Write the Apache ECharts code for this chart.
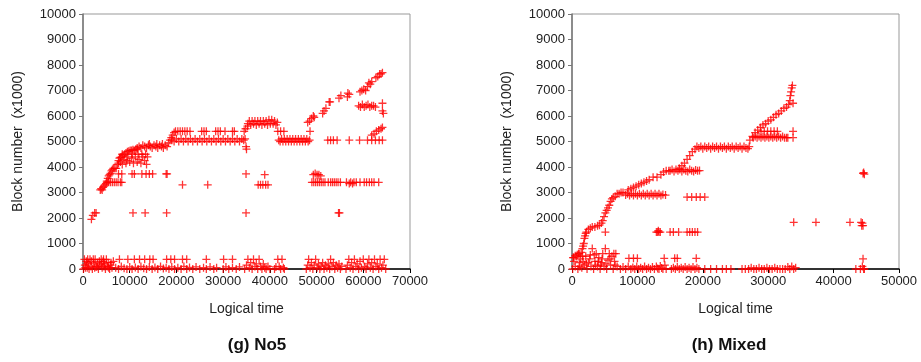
<!DOCTYPE html>
<html>
<head>
<meta charset="utf-8">
<script src="https://cdn.jsdelivr.net/npm/echarts@6/dist/echarts.min.js"></script>
<style>
  html, body { margin: 0; padding: 0; background: #fff; }
  #chart { width: 921px; height: 362px; }
</style>
</head>
<body>
<div id="chart"></div>
<script>
// ---- (g) No5 : [logical time, block number (x1000)]
const no5Low = [
  [100,0],[300,380],[400,150],[500,50],[700,300],[800,200],[900,50],[1000,380],[1200,250],[1300,0],[1500,380],
  [1700,100],[1800,300],[2000,0],[2200,380],[2300,200],[2500,50],[2600,380],[2800,80],[3000,100],[3100,250],
  [3300,0],[3500,300],[3600,150],[3900,380],[4000,200],[4100,50],[4300,300],[4400,380],[4500,100],[4600,200],
  [4800,0],[5000,380],[5200,100],[5400,250],[5500,50],[5700,0],[5900,150],[6000,250],[6200,50],[6500,300],
  [7000,50],[7600,0],[8200,100],[8800,30],[9400,0],[10000,80],[10500,0],[11200,60],[11800,0],[12400,100],
  [13000,30],[13600,0],[14200,80],[14800,0],[15400,60],[16000,0],[16600,100],[17200,20],[17800,50],[18400,0],
  [19000,80],[19600,0],[20300,50],[21000,0],[21600,100],[22200,0],[22800,60],[23500,0],[24200,80],[25000,0],
  [25800,50],[26400,0],[27200,80],[28000,0],[28600,50],[30000,0],[30600,80],[31200,0],[32000,50],[32800,0],[33500,80],
  [7800,380],[9600,380],[11000,380],[12100,380],[13200,380],[14300,380],[15000,380],[17900,380],[18800,380],
  [19600,380],[21300,380],[22200,380],[26400,380],[30100,380],[32000,380],
  [34600,0],[35000,150],[35300,380],[35600,50],[35900,250],[36200,0],[36500,380],[36800,100],[37100,200],
  [37400,0],[37700,380],[38000,100],[38300,0],[38600,200],[38900,50],[39200,0],[39600,100],[40000,0],
  [41000,0],[41300,80],[41700,380],[42000,100],[42300,0],[42600,380],[42900,50],[43100,0],
  [47800,0],[48100,150],[48300,380],[48600,50],[48900,250],[49200,0],[49500,150],[49800,380],[50100,50],
  [50400,200],[50700,0],[51000,100],[51300,250],[51600,0],[51900,150],[52200,50],[52500,200],[52800,0],
  [53000,380],[53300,100],[53600,250],[53900,0],[54200,150],[54500,50],[54800,200],[55100,0],[55400,100],
  [56300,0],[56600,150],[56900,380],[57200,50],[57500,250],[57800,0],[58100,380],[58400,100],[58700,200],
  [59000,0],[59300,300],[59600,50],[60000,380],[60300,100],[60600,0],[60900,200],[61200,380],[61500,50],
  [61800,250],[62100,0],[62400,380],[62700,100],[63000,200],[63300,0],[63600,380],[63900,50],[64200,150],
  [64500,380],[64800,0]
];
const no5Rise = [
  [1800,1950],[2100,2100],[2500,2200],[2800,2200],
  [3700,3100],[3900,3150],[4100,3100],[4300,3200],[4500,3250],[4700,3300],[4900,3350],[5100,3450],[5300,3550],
  [5500,3650],[5700,3700],[5900,3750],[6100,3850],[6300,3900],[6500,3950],[6800,3950],[7100,3950],[7400,4100],
  [7600,4250],[7800,4350],[8000,4380],[8300,4400],[8600,4450],[8900,4500],[9200,4550],[9500,4600],[9800,4620],
  [10100,4650],[10400,4650],[10700,4680],[11000,4650],[11300,4700],[11600,4700],
  [5100,3400],[5500,3400],[5900,3400],[6300,3400],[6700,3400],[7100,3400],[7500,3400],[8000,3400],[8300,3400],
  [7600,4150],[8000,4200],[8400,4100],[8800,4300],[9200,4150],[9600,4400],[10000,4200],[10400,4350],[10800,4150],
  [11200,4400],[11600,4200],[12000,4300],[12400,4150],[12800,4400],[13200,4250],[13600,4100],[13800,4400],
  [8400,4500],[9400,4250],[10600,4500],[11800,4500],[12600,4500],[13400,4500],
  [11600,4750],[12000,4800],[12400,4750],[12800,4850],[13200,4800],[13600,4750],[14000,4850],[14400,4800],
  [14800,4750],[15200,4850],[15600,4800],[16000,4750],[16400,4850],[16800,4800],[17200,4750],[17600,4850],
  [18000,4800],[14200,4900],[15800,4900],[17000,4900],
  [18300,4950],[18600,5050],[18900,5150],[19200,5250],[19500,5350]
];
const no5Bands = [
  [19000,5050],[19500,5000],[20000,5100],[20500,5000],[21000,5100],[21500,5000],[22000,5100],[22500,5000],
  [23000,5100],[23500,5000],[24000,5100],[24500,5000],[25000,5100],[25500,5000],[26000,5100],[26500,5000],
  [27000,5100],[27500,5000],[28000,5100],[28500,5000],[29000,5100],[29500,5000],[30000,5100],[30500,5000],
  [31000,5100],[31500,5000],[32000,5100],[32500,5000],[33000,5100],[33500,5000],[34000,5100],[34400,5050],
  [19800,5400],[20300,5400],[20800,5400],[21300,5400],[21800,5400],[22300,5400],[22900,5400],[25400,5400],
  [25900,5400],[26400,5400],[28400,5400],[28900,5400],[29400,5400],[30400,5400],[32000,5400],[32400,5400],
  [34500,5400],[34700,5100],[34900,4800],[35000,4700],[34800,5500],[35200,5600],
  [35300,5700],[35600,5800],[35900,5650],[36200,5800],[36500,5700],[36800,5800],[37100,5650],[37400,5800],
  [37700,5700],[38000,5800],[38300,5650],[38600,5800],[38900,5700],[39200,5800],[39500,5650],[39800,5850],
  [40100,5700],[40400,5850],[40700,5700],[41000,5800],[41300,5650],[41600,5750],
  [41700,5400],[42300,5400],[43000,5400],
  [41900,5050],[42200,5000],[42500,5100],[42800,5000],[43100,5100],[43400,5000],[43700,5100],[44000,5000],
  [44300,5100],[44600,5000],[44900,5100],[45200,5000],[45500,5100],[45800,5000],[46100,5100],[46400,5000],
  [46700,5100],[47000,5000],[47300,5100],[47600,5000],[47900,5100],[48200,5000],[48500,5050],[48600,5400],
  [48100,5750],[48500,5800],[48900,5900],[49300,6000],[49500,5950],
  [51300,6100],[51600,6200],[52000,6300],[52700,6550],[52900,6550],[54800,6700],[55200,6800],
  [56600,6750],[56700,6900],[57000,6850],
  [59300,6950],[59700,7000],[60100,7050],[60500,7000],[60900,7150],[61200,7300],[61500,7250],[61800,7350],
  [62700,7500],[63100,7550],[63500,7650],[63800,7650],[64100,7700],
  [59000,6400],[59400,6350],[59800,6450],[60200,6350],[60600,6400],[61000,6450],[61400,6350],[61800,6400],
  [62200,6400],[62600,6350],[64100,6500],[64100,6200],[64300,6100],
  [52400,5050],[53000,5050],[53600,5050],[54400,5050],[57000,5050],[59200,5050],[60900,5050],[61800,5050],
  [62600,5050],[63400,5050],[64100,5050],
  [61800,5250],[62300,5300],[62800,5400],[63300,5450],[63800,5500],[64100,5550]
];
const no5Mid = [
  [10700,2200],[13300,2200],[17900,2200],[34900,2200],[54700,2200],[54900,2200],
  [21300,3300],[26700,3300],[37500,3300],[38000,3300],[38500,3300],[39100,3300],[39600,3300],[38900,3700],
  [7600,3730],[8300,3730],[10500,3730],[11000,3730],[12600,3730],[13500,3730],[14200,3730],[14900,3730],
  [17800,3730],[18000,3730],[34900,3730],
  [49300,3700],[49700,3750],[50100,3700],[50500,3700],[50900,3650],
  [49000,3400],[49400,3400],[49800,3400],[50200,3400],[50600,3400],[51000,3400],[51400,3400],[51800,3400],
  [52500,3400],[53000,3400],[53400,3400],[53800,3400],[54200,3400],[54600,3400],[55100,3400],
  [56400,3400],[57000,3350],[57300,3400],[57700,3350],[58000,3400],[58500,3400],[59300,3400],[60200,3400],
  [60700,3400],[61300,3400],[61800,3400],[62300,3400],[63300,3400]
];

// ---- (h) Mixed
const mixedLow = [
  [100,0],[300,300],[500,100],[700,500],[900,0],[1100,250],[1300,400],[1500,50],[1700,300],[1900,150],
  [2100,500],[2300,0],[2500,250],[2700,400],[2900,100],[3100,800],[3300,0],[3500,300],[3700,600],[3900,100],
  [4100,450],[4300,0],[4500,250],[4700,600],[4900,100],[5100,800],[5300,0],[5500,350],[5700,600],[5900,150],
  [6100,500],[6300,0],[6500,300],[6700,600],[6900,100],[200,450],[1000,600],[1600,500],[2200,200],[2800,550],
  [3400,550],[4000,300],[4600,400],[5200,200],[5800,400],[6400,600],[6600,150],[3600,150],[4400,150],[1200,100],
  [7400,0],[7800,80],[8200,0],[8600,100],[8700,420],[9000,0],[9300,60],[9400,420],[9600,0],[9900,100],
  [10000,420],[10200,0],[10500,50],[10800,0],[11100,100],[11400,0],[11700,50],[12000,0],[12300,80],[12600,0],
  [12900,100],[13100,20],[13300,0],[13500,120],[13700,40],[13900,0],[14100,420],[14200,150],[14400,0],
  [15200,0],[15500,50],[15700,420],[15800,0],[16100,420],[16100,80],[16400,0],[16700,50],[17000,0],
  [17300,80],[17600,0],[17900,50],[18200,0],[18500,80],[18800,0],[19000,420],[19100,50],[19400,0],
  [20300,0],[21200,0],[22100,0],[23000,0],[23600,0],[24300,0],
  [26000,0],[26500,0],[27000,0],[27400,50],[27800,0],[28200,0],[28600,50],[29000,0],[29400,0],[29800,50],
  [30200,0],[30600,0],[31000,50],[31400,0],[31800,0],[32200,0],[32600,0],[33000,80],[33300,0],[33600,100],
  [33900,0],[34200,50],
  [43400,0],[44100,0],[44400,100],[44500,400],[44600,0],[44700,0]
];
const mixedMid = [
  [8200,2900],[8500,2950],[8800,2880],[9100,2950],[9400,2880],[9700,2950],[10000,2880],[10300,2950],
  [10600,2880],[10900,2950],[11200,2880],[11500,2950],[11800,2880],[12100,2950],[12400,2880],[12700,2950],
  [13000,2880],[13300,2950],[13600,2880],[13900,2920],[14300,2900],
  [17600,2820],[18300,2820],[19000,2820],[19600,2820],[20300,2820],
  [5100,1450],[12900,1450],[13100,1450],[13300,1450],[13500,1450],[13200,1500],[15000,1450],[15500,1450],
  [16300,1450],[17600,1450],[18000,1450],[18400,1450],[18800,1450],[19200,1450],
  [33900,1830],[37300,1830],[42500,1830],[44200,1830],[44400,1800],[44300,1700],[44500,1700],
  [44500,3750],[44700,3720],[44600,3780]
];
const mixedCurve = [
  [200,450],[500,520],[800,560],[1100,600],[1400,650],[1600,800],[1700,900],[1800,1000],[1900,1200],[2000,1300],
  [2100,1400],[2200,1450],[2500,1550],[2800,1600],[3100,1650],[3500,1650],[3900,1700],[4200,1720],[4500,1800],
  [4700,1900],[4900,2050],[5100,2200],[5300,2300],[5500,2400],[5700,2500],[5900,2650],[6100,2750],[6300,2800],
  [6600,2850],[6900,2950],[7200,2950],[7500,3000],[7800,3000],
  [8600,3100],[9000,3150],[9400,3200],[9800,3250],[10200,3300],[10600,3350],[11000,3400],[11400,3450],
  [11800,3500],[12400,3600],[13000,3600],[13600,3700],[14000,3800],[14400,3850],[14800,3850],
  [15000,3850],[15300,3900],[15600,3820],[15900,3900],[16200,3850],[16500,3900],[16800,3820],[17100,3900],
  [17400,3850],[17700,3820],[18000,3900],[18300,3850],[18600,3820],[18900,3880],[19200,3850],[19500,3860],
  [16400,3950],[16800,4050],[17200,4150],[17600,4300],[18000,4450],[18400,4600],[18800,4700],
  [19100,4800],[19400,4750],[19700,4800],[20000,4720],[20300,4800],[20600,4750],[20900,4800],[21200,4720],
  [21500,4800],[21800,4750],[22100,4800],[22400,4720],[22700,4800],[23000,4750],[23300,4800],[23600,4720],
  [23900,4800],[24200,4750],[24500,4800],[24800,4720],[25100,4800],[25400,4750],[25700,4800],[26000,4720],
  [26300,4800],[26600,4750],[26900,4720],[27100,4800],
  [27200,5050],[27600,5200],[28000,5350],[28400,5450],[28800,5550],[29200,5650],[29600,5700],[30000,5800],
  [30400,5850],[30800,5950],[31200,6050],[31600,6100],[32000,6200],[32400,6300],[32800,6350],[33100,6450],
  [33300,6600],[33400,6800],[33500,6950],[33600,7100],[33700,7200],[33800,6500],
  [27700,5150],[28000,5200],[28300,5150],[28600,5200],[28900,5150],[29200,5200],[29500,5150],[29800,5200],
  [30100,5150],[30400,5200],[30700,5150],[31000,5200],[31300,5150],[31600,5200],[31900,5150],[32200,5200],
  [32500,5150],[32800,5150],[33000,5150],
  [28900,5400],[29400,5400],[29900,5400],[30400,5400],[30900,5400],[31400,5400],[33800,5400],[33800,5150]
];

const yTicks = { min: 0, max: 10000, interval: 1000 };
const plus = 'path://M4.2,0h1.6v4.2h4.2v1.6h-4.2v4.2h-1.6v-4.2h-4.2v-1.6h4.2z';
const font = 'Arial, "Liberation Sans", sans-serif';

const chart = echarts.init(document.getElementById('chart'));

function xAxis(idx, max) {
  return {
    gridIndex: idx, type: 'value', min: 0, max: max, interval: 10000,
    name: 'Logical time', nameLocation: 'middle', nameGap: 33,
    nameTextStyle: { fontSize: 14, color: '#222', fontFamily: font },
    axisLine: { show: true, lineStyle: { color: '#000', width: 1.5 } },
    axisTick: { show: true, length: 4, lineStyle: { color: '#000' } },
    axisLabel: { fontSize: 13, color: '#222', margin: 6, fontFamily: font, formatter: v => String(v) },
    splitLine: { show: false }
  };
}
function yAxis(idx) {
  return {
    gridIndex: idx, type: 'value', min: yTicks.min, max: yTicks.max, interval: yTicks.interval,
    name: 'Block number  (x1000)', nameLocation: 'middle', nameGap: 58,
    nameTextStyle: { fontSize: 14, color: '#222', fontFamily: font },
    axisLine: { show: true, lineStyle: { color: '#777', width: 1.5 } },
    axisTick: { show: true, length: 4, lineStyle: { color: '#777' } },
    axisLabel: { fontSize: 13, color: '#222', margin: 7, fontFamily: font, formatter: v => String(v) },
    splitLine: { show: false }
  };
}
function series(idx, data) {
  return {
    type: 'scatter', xAxisIndex: idx, yAxisIndex: idx, data: data,
    symbol: plus, symbolSize: 8,
    itemStyle: { color: '#ff0000' }
  };
}

chart.setOption({
  animation: false,
  backgroundColor: '#fff',
  grid: [
    { left: 83, top: 14, width: 327, height: 255, show: true, borderColor: '#999', borderWidth: 1 },
    { left: 572, top: 14, width: 327, height: 255, show: true, borderColor: '#999', borderWidth: 1 }
  ],
  xAxis: [xAxis(0, 70000), xAxis(1, 50000)],
  yAxis: [yAxis(0), yAxis(1)],
  series: [
    series(0, no5Low.concat(no5Rise, no5Bands, no5Mid)),
    series(1, mixedLow.concat(mixedMid, mixedCurve))
  ],
  graphic: [
    { type: 'text', x: 257, y: 345, style: { text: '(g) No5', font: 'bold 17px ' + font, fill: '#111', textAlign: 'center', textVerticalAlign: 'middle' } },
    { type: 'text', x: 729, y: 345, style: { text: '(h) Mixed', font: 'bold 17px ' + font, fill: '#111', textAlign: 'center', textVerticalAlign: 'middle' } }
  ]
});
</script>
</body>
</html>
